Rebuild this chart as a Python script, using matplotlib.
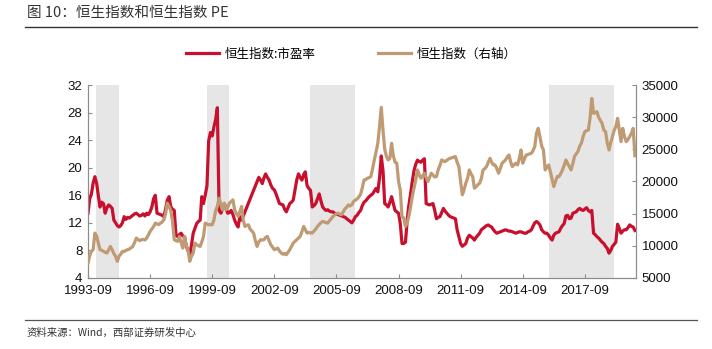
import numpy as np
import pandas as pd
import matplotlib
matplotlib.use("Agg")
import matplotlib.pyplot as plt
import matplotlib.dates as mdates
from matplotlib.lines import Line2D

# monthly readings from 1993-09 onwards
pe = [13.4, 15.5, 16.2, 17.8, 18.7, 17.7, 16.0, 14.3, 15.0, 14.8,
      13.4, 14.2, 14.6, 14.4, 14.1, 12.4, 12.0, 11.6, 11.4, 11.6,
      12.0, 12.9, 12.5, 12.8, 12.7, 12.9, 13.1, 13.3, 13.4, 13.2,
      13.0, 13.1, 13.3, 13.0, 13.4, 13.2, 13.6, 14.3, 15.5, 16.0,
      13.4, 13.3, 13.2, 13.1, 12.9, 14.0, 15.3, 15.8, 14.3, 14.0,
      13.8, 10.2, 10.0, 10.3, 10.5, 10.1, 10.0, 8.6, 8.0, 7.4,
      8.8, 10.5, 11.2, 11.9, 12.2, 12.4, 15.8, 14.8, 16.0, 17.4,
      23.9, 25.1, 24.6, 25.9, 27.0, 28.7, 13.8, 13.4, 14.0, 14.8,
      14.2, 13.4, 13.5, 13.8, 13.2, 12.4, 11.8, 11.4, 12.9, 12.4,
      None, None, None, None, None, None, None, None, 18.0, 18.6,
      18.2, 17.7, 18.5, 19.1, 18.6, 18.2, 17.5, 17.0, 16.8, 16.2,
      15.5, 14.8, 14.7, 14.6, 14.0, 13.6, 14.2, 14.8, 15.0, 15.3,
      16.8, 18.2, 19.1, 18.6, 18.2, 19.0, 19.4, 17.4, 17.0, 16.7,
      14.3, 14.5, 14.8, 15.5, 16.2, 15.2, 14.3, 14.0, 13.8, 13.9,
      13.7, 13.6, 13.6, 13.4, 13.3, 13.2, 13.1, 13.0, 12.9, 12.8,
      12.6, 12.4, 12.2, 12.0, 12.4, 12.9, 13.1, 13.5, 13.8, 14.5,
      15.0, 15.2, 15.5, 15.8, 16.0, 16.2, 16.6, 17.0, 16.5, 18.5,
      21.7, 19.6, 14.8, 14.6, 14.3, 15.0, 15.8, 14.8, 13.8, 13.6,
      13.4, 11.9, 9.0, 9.0, 9.2, 12.5, 14.5, 16.2, 18.0, 19.6,
      20.5, 21.1, 20.9, 20.8, 21.1, 21.3, 14.8, 14.7, 14.6, 14.7,
      14.8, 13.8, 12.6, 12.8, 12.9, 13.5, 14.1, 13.7, 13.4, 13.1,
      12.9, 12.8, 12.7, 12.6, 11.0, 10.0, 9.0, 8.6, 8.8, 9.0,
      9.8, 10.2, 10.0, 9.8, 9.5, 9.9, 10.2, 10.5, 11.0, 11.2,
      11.4, 11.6, 11.7, 11.5, 11.4, 11.0, 10.7, 10.5, 10.6, 10.7,
      10.8, 10.9, 11.0, 10.9, 10.8, 10.8, 10.7, 10.6, 10.5, 10.6,
      10.7, 10.7, 10.6, 10.5, 10.5, 10.7, 10.8, 11.0, 11.5, 12.0,
      12.2, 12.0, 11.7, 11.0, 10.7, 10.5, 10.5, 10.2, 9.8, 9.5,
      10.2, 10.5, 10.6, 10.7, 11.2, 11.6, 11.9, 13.0, 13.1, 12.6,
      12.7, 13.4, 13.5, 13.6, 13.9, 14.1, 13.9, 13.8, 14.0, 14.2,
      13.8, 13.6, 13.8, 10.5, 10.3, 10.0, 9.8, 9.5, 9.2, 9.0,
      8.6, 8.3, 7.6, 8.0, 8.6, 8.9, 9.2, 11.8, 11.2, 10.5,
      10.8, 11.0, 11.0, 11.3, 11.7, 11.5, 11.4, 10.9]

hsi = [7300, 8500, 9140, 9400, 11980, 11460, 10500, 9400, 9300, 9140,
       9000, 8880, 9400, 9900, 9400, 8800, 8360, 7590, 8360, 8700,
       9140, 9100, 9300, 9400, 9500, 9700, 9910, 10500, 11200, 11000,
       10800, 10950, 11000, 10900, 11200, 11700, 12240, 12600, 13000, 13530,
       13400, 13300, 13530, 13700, 14050, 15000, 16630, 16120, 15500, 13790,
       10950, 10800, 10700, 11460, 10500, 9650, 11460, 10000, 9400, 7590,
       8400, 8880, 10430, 10170, 10000, 9910, 10600, 11460, 13530, 13400,
       13270, 13300, 13270, 14000, 15500, 16120, 17410, 16500, 15600, 16630,
       15600, 16000, 16630, 16900, 17150, 15600, 15000, 14570, 15300, 16120,
       14000, 13010, 13200, 13270, 12600, 12300, 11980, 10800, 9910, 10600,
       10950, 10900, 10950, 11300, 11460, 10800, 10170, 9800, 9400, 9500,
       9650, 9200, 8880, 8700, 8800, 8620, 9000, 9400, 9900, 10430,
       10700, 10950, 11200, 11460, 12200, 13010, 12500, 11980, 12100, 12000,
       12000, 12300, 12600, 13010, 13300, 13600, 13790, 13700, 13600, 13530,
       13900, 14200, 14570, 14800, 15000, 15090, 14900, 14830, 15300, 15800,
       16000, 16370, 16200, 16400, 16900, 17100, 17300, 17600, 18000, 19000,
       20250, 20300, 20510, 20600, 20770, 22000, 23350, 24600, 25940, 28520,
       31520, 28000, 25000, 23870, 23350, 23600, 25940, 24000, 23000, 22840,
       20000, 18700, 14570, 14310, 13010, 13600, 14570, 16000, 17670, 19000,
       20250, 21800, 21000, 20510, 20900, 21290, 20600, 20000, 20600, 21290,
       21000, 20700, 20770, 21800, 22500, 23350, 23200, 23100, 23300, 23500,
       23610, 23700, 23800, 23870, 23000, 22320, 20000, 17930, 18700, 19730,
       20500, 21800, 21200, 20770, 18960, 19200, 19500, 19730, 20500, 21800,
       22000, 22320, 23000, 23610, 23000, 22580, 22580, 22000, 21290, 22000,
       22840, 23100, 23350, 23800, 24130, 23000, 22320, 22600, 22840, 22580,
       23500, 24900, 22840, 23500, 24130, 24200, 24300, 24390, 24800, 25420,
       27500, 28260, 26970, 25500, 24900, 21800, 22200, 22580, 21550, 20300,
       19210, 20000, 20770, 20770, 21200, 21800, 22500, 23350, 22800, 22320,
       21800, 22800, 23870, 24300, 24640, 25500, 25940, 27000, 27750, 27900,
       28000, 29820, 32920, 30590, 30700, 30850, 30000, 29500, 29050, 28000,
       27750, 26000, 24900, 26000, 26970, 28000, 28520, 29820, 28000, 26200,
       28260, 27000, 26200, 26500, 27000, 27500, 28260, 24000]

shade_periods = [("1994-01-20", "1995-02-25"),
                 ("1999-06-01", "2000-06-20"),
                 ("2004-05-20", "2006-07-25"),
                 ("2015-12-05", "2019-01-28")]

tick_dates = ["1993-09", "1996-09", "1999-09", "2002-09", "2005-09",
              "2008-09", "2011-09", "2014-09", "2017-09"]

dates = pd.date_range("1993-09-01", periods=len(hsi), freq="MS")
pe_s = pd.Series(pe, index=dates, dtype=float).dropna()
hsi_s = pd.Series(hsi, index=dates, dtype=float)

RED = "#c8102e"
TAN = "#bf9a73"
GRID = "#8c8c8c"
cjk = ["Noto Sans CJK SC", "DejaVu Sans"]
plt.rcParams["font.family"] = ["Liberation Sans", "DejaVu Sans"]

fig = plt.figure(figsize=(7.12, 3.49), dpi=100)
ax = fig.add_axes([88 / 712, 1 - 278 / 349, (636 - 88) / 712, (278 - 85) / 349])
ax2 = ax.twinx()

for a, b in shade_periods:
    ax.axvspan(pd.Timestamp(a), pd.Timestamp(b), color="#e6e6e6", lw=0, zorder=0)

l1, = ax.plot(pe_s.index, pe_s.values, color=RED, lw=2.3, zorder=3)
l2, = ax2.plot(hsi_s.index, hsi_s.values, color=TAN, lw=2.3, zorder=3)

ax.set_xlim(pd.Timestamp("1993-09-01"), pd.Timestamp("2020-02-20"))
ax.set_ylim(4, 32)
ax.set_yticks(np.arange(4, 33, 4))
ax2.set_ylim(5000, 35000)
ax2.set_yticks(np.arange(5000, 35001, 5000))
ax.set_xticks([pd.Timestamp(d + "-01") for d in tick_dates])
ax.xaxis.set_major_formatter(mdates.DateFormatter("%Y-%m"))

for a in (ax, ax2):
    a.spines["top"].set_visible(False)
    for s in ("left", "right", "bottom"):
        a.spines[s].set_color(GRID)
        a.spines[s].set_linewidth(0.8)
    a.tick_params(direction="in", length=3, color=GRID, labelsize=9.5,
                  labelcolor="#111111", pad=4)
ax.tick_params(axis="x", pad=5)

# title, rules and footer
fig.text(27 / 712, 1 - 13 / 349, "图 10：恒生指数和恒生指数 PE", family=cjk,
         fontsize=10.5, color="#333333", va="center", ha="left")
fig.add_artist(Line2D([25 / 712, 697 / 712], [1 - 27 / 349] * 2,
                      transform=fig.transFigure, color="#333333", lw=1.0))
fig.add_artist(Line2D([25 / 712, 697 / 712], [1 - 320 / 349] * 2,
                      transform=fig.transFigure, color="#555555", lw=0.9))
fig.text(27 / 712, 1 - 333 / 349, "资料来源：Wind，西部证券研发中心", family=cjk,
         fontsize=7.5, color="#333333", va="center", ha="left")

fig.legend([l1, l2], ["恒生指数:市盈率", "恒生指数（右轴）"],
           loc="center", bbox_to_anchor=(351 / 712, 1 - 54 / 349), ncol=2,
           frameon=False, prop={"family": cjk, "size": 9},
           handlelength=2.7, handletextpad=0.4, columnspacing=5.0)

fig.savefig("out.png", dpi=100)
